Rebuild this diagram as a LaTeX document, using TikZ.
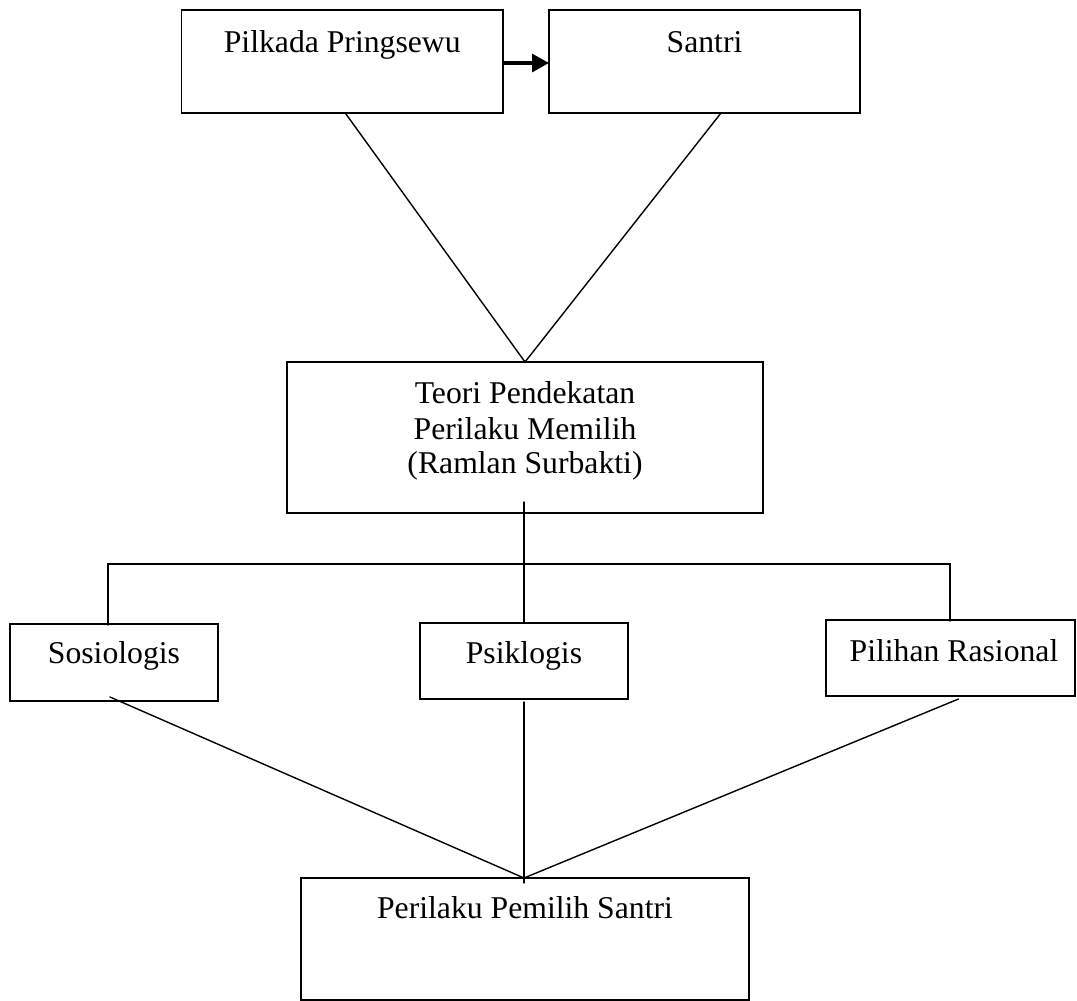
\documentclass[tikz,border=0pt]{standalone}
\usepackage{fontspec}
\setmainfont{Liberation Serif}
\usetikzlibrary{arrows.meta}
\begin{document}
\begin{tikzpicture}[x=1pt,y=-1pt,
  box/.style={draw=black, line width=1.4pt, inner sep=0pt, outer sep=0pt},
  lbl/.style={inner sep=0pt, anchor=base, font=\fontsize{31.7}{35}\selectfont},
  conn/.style={line width=1.4pt, line cap=round}]
\useasboundingbox (0,0) rectangle (1077,1001);
% boxes
\node[box, minimum width=321.5pt, minimum height=103pt] (pilkada) at (342.25,61.5) {};
\node[box, minimum width=311pt, minimum height=103pt] (santri) at (704.5,61.5) {};
\node[box, minimum width=476pt, minimum height=151pt] (teori) at (525,437.5) {};
\node[box, minimum width=208pt, minimum height=77pt] (sosio) at (114,662.5) {};
\node[box, minimum width=208pt, minimum height=76pt] (psiko) at (524,661) {};
\node[box, minimum width=249pt, minimum height=76pt] (pilihan) at (950.5,658) {};
\node[box, minimum width=448pt, minimum height=122pt] (hasil) at (525,939) {};
% texts
\node[lbl] (tpilkada) at (342.25,52) {Pilkada Pringsewu};
\node[lbl] (tsantri) at (704.5,52) {Santri};
\node[lbl] (tteoriA) at (525,403) {Teori Pendekatan};
\node[lbl] (tteoriB) at (525,439) {Perilaku Memilih};
\node[lbl] (tteoriC) at (525,473) {(Ramlan Surbakti)};
\node[lbl] (tsosio) at (114,663) {Sosiologis};
\node[lbl] (tpsiko) at (524,663) {Psiklogis};
\node[lbl] (tpilihan) at (954,661) {Pilihan Rasional};
\node[lbl] (thasil) at (525,918) {Perilaku Pemilih Santri};
% connectors
\draw[line width=3.2pt, -{Triangle[length=17pt,width=18pt]}] ([yshift=-1.5pt]pilkada.east) -- ([yshift=-1.5pt]santri.west);
\draw[conn] ([xshift=3pt]pilkada.south) -- (teori.north);
\draw[conn] ([xshift=16.5pt]santri.south) -- (teori.north);
\coordinate (hub) at (524,564);
\draw[conn] ([xshift=-1pt,yshift=11pt]teori.south) -- (hub);
\draw[conn] ([xshift=-6pt,yshift=-1pt]sosio.north) |- (hub) -| ([xshift=-0.5pt,yshift=-1pt]pilihan.north);
\draw[conn] (hub) -- (psiko.north);
\draw[conn] ([xshift=-4pt,yshift=4pt]sosio.south) -- ([xshift=-1pt]hasil.north);
\draw[conn] ([yshift=-3pt]psiko.south) -- ([xshift=-1pt,yshift=-5pt]hasil.north);
\draw[conn] ([xshift=8pt,yshift=-3pt]pilihan.south) -- ([xshift=-1pt]hasil.north);
\end{tikzpicture}
\end{document}
